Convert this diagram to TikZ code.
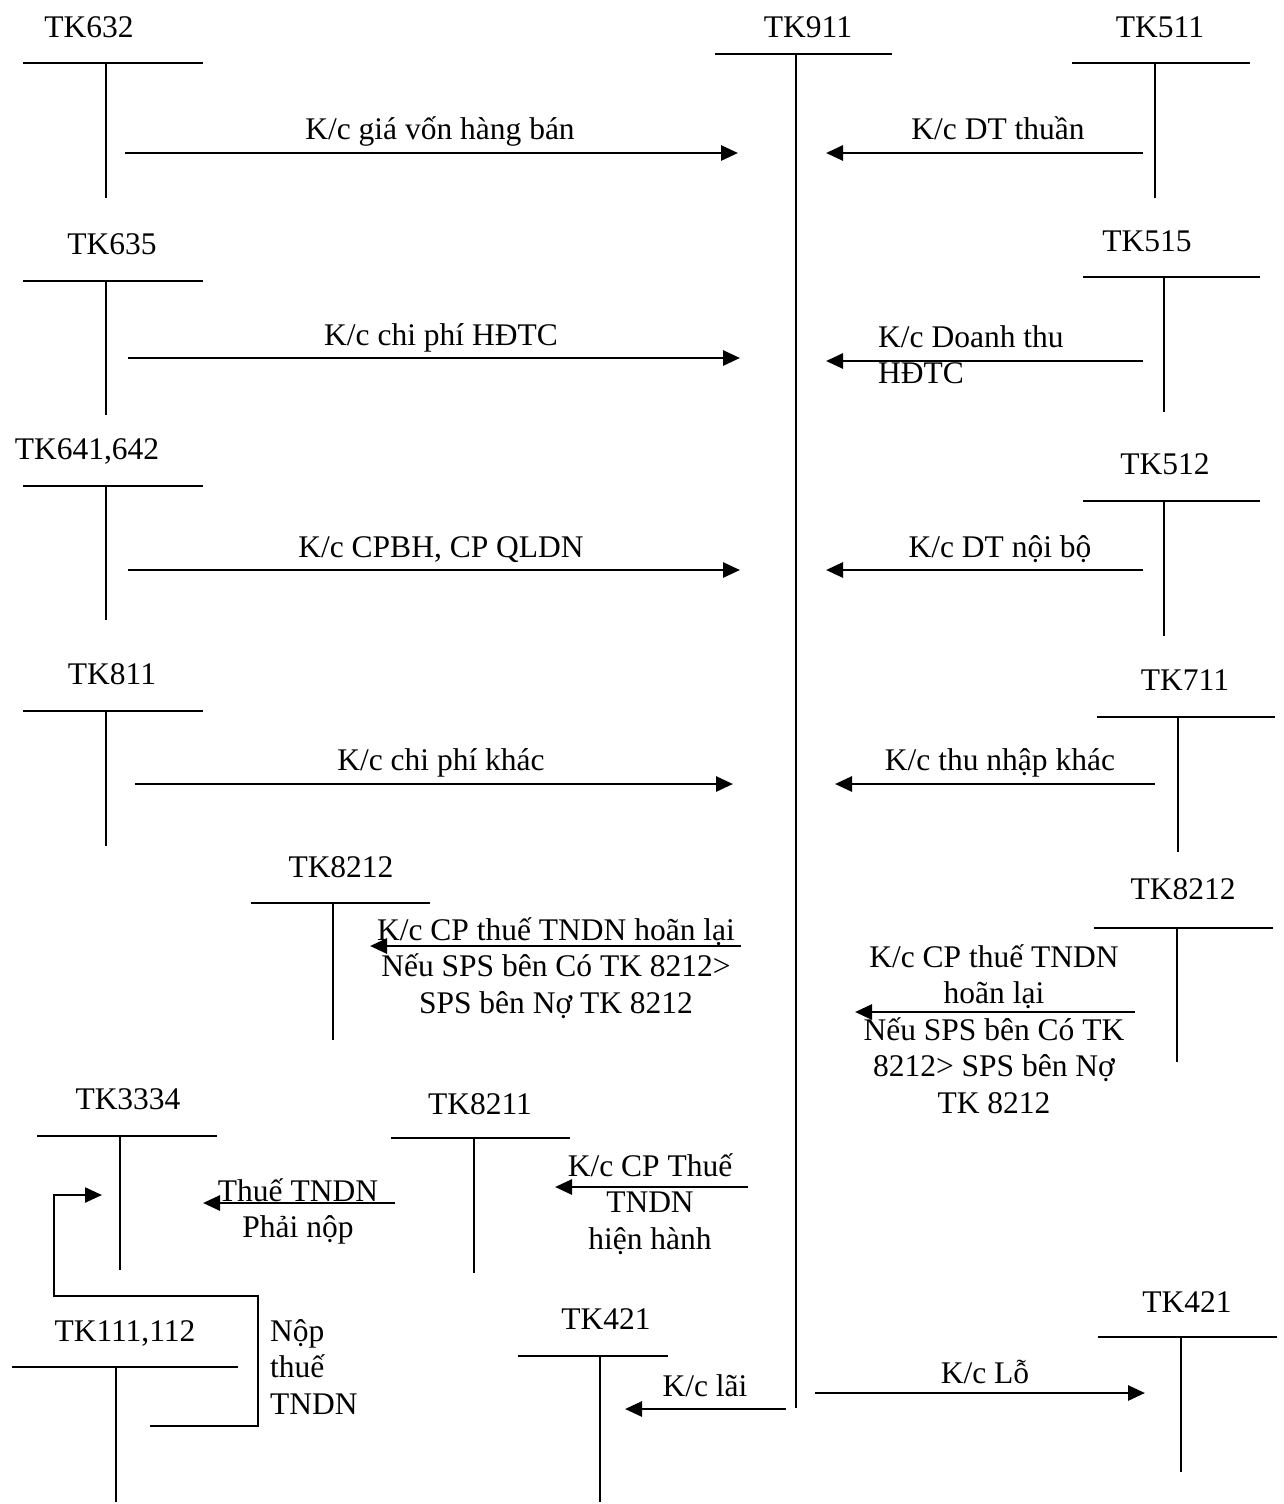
\documentclass[tikz,border=0pt]{standalone}
\usepackage{fontspec}
\setmainfont{Liberation Serif}
\usetikzlibrary{arrows.meta,positioning,calc}

\tikzset{
  acct/.style={line width=2.3pt},
  flow/.style={line width=2.8pt,-{Triangle[length=17pt,width=15pt]}},
  lbl/.style={font=\fontsize{31.5}{36.5}\selectfont,inner sep=0pt,anchor=base},
  mlbl/.style={font=\fontsize{31.5}{36.5}\selectfont,inner sep=0pt,anchor=north,align=center},
}

\begin{document}
\begin{tikzpicture}[x=1pt,y=-1pt]
\useasboundingbox (0,0) rectangle (1283,1504);
% T accounts: name/label/label x/label baseline/bar y/bar left/bar right/stem x/stem end
\foreach \nm/\lab/\lx/\ly/\ty/\xa/\xb/\sx/\se in {
   k632/TK632/89/38/63/23/203/106/198,
   k911/TK911/808/38/54/715/892/796/1408,
   k511/TK511/1160/38/63/1072/1250/1155/198,
   k635/TK635/112/254/281/23/203/106/415,
   k515/TK515/1147/251/277/1083/1260/1164/412,
   k641/{TK641,642}/87/459/486/23/203/106/620,
   k512/TK512/1165/474/501/1083/1260/1164/636,
   k811/TK811/112/684/711/23/203/106/846,
   k711/TK711/1185/690/717/1097/1275/1178/852,
   k8212a/TK8212/341/877/903/251/430/333/1040,
   k8212b/TK8212/1183/899/928/1094/1273/1177/1062,
   k3334/TK3334/128/1109/1136/37/217/120/1270,
   k8211/TK8211/480/1114/1138/391/570/474/1273,
   k111/{TK111,112}/125/1341/1367/12/238/116/1502,
   k421a/TK421/606/1329/1356/518/668/600/1502,
   k421b/TK421/1187/1312/1337/1098/1277/1181/1472
}{
  \node[lbl] (\nm) at (\lx,\ly) {\lab};
  \coordinate (\nm-l) at (\xa,\ty);
  \coordinate (\nm-r) at (\xb,\ty);
  \coordinate (\nm-t) at (\sx,\ty);
  \coordinate (\nm-b) at (\sx,\se);
  \draw[acct] (\nm-l) -- (\nm-r) (\nm-t) -- (\nm-b);
}
% Transfer arrows: name/from x/to x/y
\foreach \nm/\xs/\xe/\yy in {
   gv/125/738/153,
   dt/1143/826/153,
   hd/128/740/358,
   dh/1143/826/361,
   bh/128/740/570,
   nb/1143/826/570,
   ck/135/733/784,
   tn/1155/835/784,
   hla/741/370/946,
   hlb/1135/855/1012,
   hh/748/555/1187,
   pn/395/203/1203,
   lai/786/625/1409,
   lo/815/1145/1393
}{
  \coordinate (\nm-s) at (\xs,\yy);
  \coordinate (\nm-e) at (\xe,\yy);
  \draw[flow] (\nm-s) -- (\nm-e);
}
% One-line labels
\foreach \nm/\px/\py/\txt in {
   tgv/440/139/{K/c giá vốn hàng bán},
   tdt/998/139/{K/c DT thuần},
   thd/441/345/{K/c chi phí HĐTC},
   tbh/441/557/{K/c CPBH, CP QLDN},
   tnb/1000/557/{K/c DT nội bộ},
   tck/441/770/{K/c chi phí khác},
   ttn/1000/770/{K/c thu nhập khác},
   tlai/705/1396/{K/c lãi},
   tlo/985/1383/{K/c Lỗ}
}{
  \node[lbl] (\nm) at (\px,\py) {\txt};
}
% Labels on several lines
\node[mlbl,anchor=north west,align=left] (tdh) at (878,321.5)
  {\strut K/c Doanh thu\\HĐTC};
\node[mlbl] (thla) at (556,914.5)
  {\strut K/c CP thuế TNDN hoãn lại\\Nếu SPS bên Có TK 8212>\\SPS bên Nợ TK 8212};
\node[mlbl] (thlb) at (994,941.5)
  {\strut K/c CP thuế TNDN\\hoãn lại\\Nếu SPS bên Có TK\\8212> SPS bên Nợ\\TK 8212};
\node[mlbl] (thh) at (650,1150.5)
  {\strut K/c CP Thuế\\TNDN\\hiện hành};
\node[mlbl] (tpn) at (298,1175.5)
  {\strut Thuế TNDN\\Phải nộp};
\node[mlbl,anchor=north west,align=left] (tnp) at (270,1315.5)
  {\strut Nộp\\thuế\\TNDN};
% Payment of tax: from TK111,112 round to TK3334
\coordinate (np-s) at (150,1426);
\coordinate (np-c) at (258,1296);
\coordinate (np-u) at (54,1195);
\coordinate (np-e) at (102,1195);
\draw[flow,line width=2.3pt] (np-s) -| (np-c) -| (np-u) -- (np-e);
\end{tikzpicture}
\end{document}
